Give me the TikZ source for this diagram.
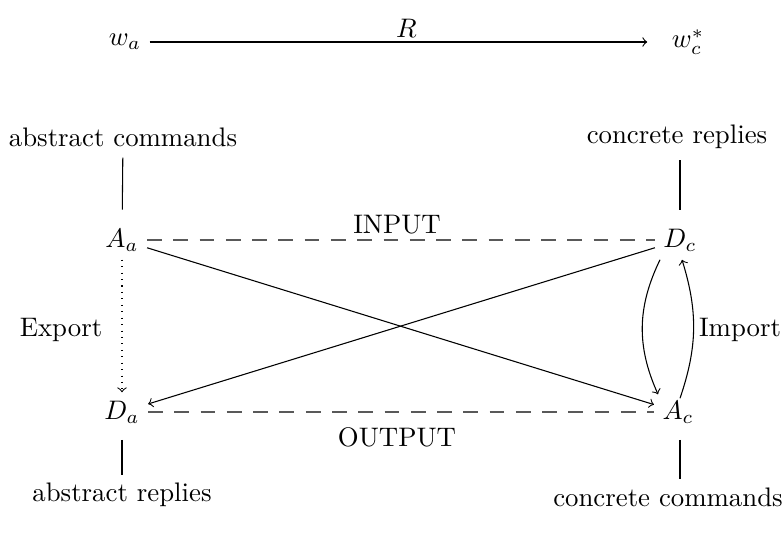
\documentclass[tikz,border=0pt]{standalone}
\usetikzlibrary{calc}
\begin{document}
\begin{tikzpicture}[x=0.3731pt,y=0.3731pt,
  lbl/.style={inner sep=3pt},
  dashln/.style={draw=black!65,dash pattern=on 5.5pt off 4.3pt}]
\useasboundingbox (0,0) rectangle (784,540);
% top
\node[lbl] (wa) at (125,498) {$w_a$};
\node[lbl] (wc) at (688,498) {$w_c^*$};
\draw[->,shorten >=6pt] (wa) -- node[above=-2pt] {$R$} (wc);
% texts
\node[lbl] (ac) at (123,403) {abstract commands};
\node[lbl] (cr) at (677,403) {concrete replies};
\node[lbl] (ar) at (122,45) {abstract replies};
\node[lbl] (cc) at (668,43) {concrete commands};
% math nodes
\node[lbl] (Aa) at (122,300) {$A_a$};
\node[lbl] (Dc) at (680,300) {$D_c$};
\node[lbl] (Da) at (122,128) {$D_a$};
\node[lbl] (Ac) at (678,128) {$A_c$};
% vertical lines
\draw[shorten <=1pt,shorten >=4pt] (ac) -- (Aa);
\draw[shorten <=1pt,shorten >=4pt] (cr.south -| Dc) -- (Dc);
\draw[shorten <=3pt] (Da) -- (ar);
\draw[shorten <=3pt] (Ac.south -| Dc) -- (cc.north -| Dc);
% dashed
\draw[dashln] (Aa) -- (Dc);
\node[lbl] (inp) at (397,315) {INPUT};
\draw[dashln] (Da) -- (Ac);
\node[lbl] (outp) at (397,103) {OUTPUT};
% diagonals
\draw[->] (Aa) -- (Ac);
\draw[->] (Dc) -- (Da);
% dotted
\draw[->,dotted] (Aa) -- (Da);
\node[lbl] (exp) at (61,210) {Export};
% curves
\draw[->] ($(Dc.south)+(-20,0)$) to[bend right=25] ($(Ac.north)+(-20,-2)$);
\draw[->] ($(Ac.north)+(2,-6)$) to[bend right=18] ($(Dc.south)+(2,0)$);
\node[lbl] (imp) at (740,210) {Import};
\end{tikzpicture}
\end{document}
